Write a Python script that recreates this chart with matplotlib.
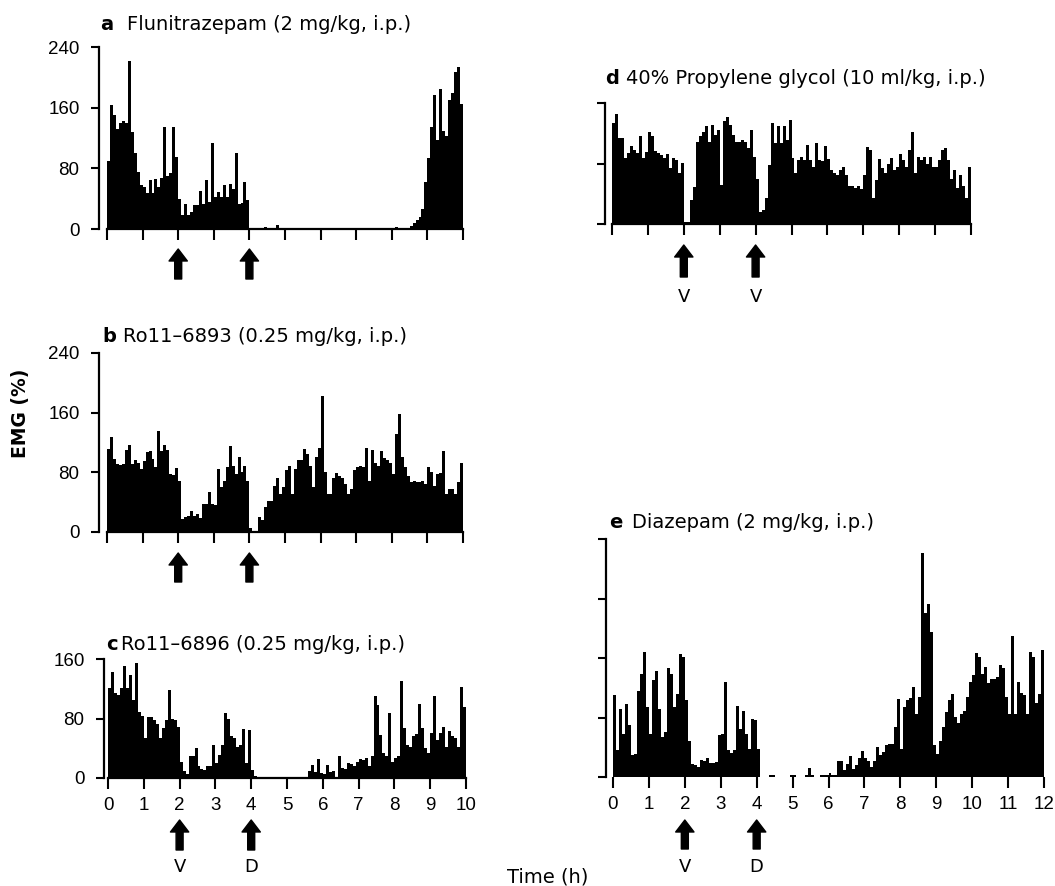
import numpy as np
import matplotlib
matplotlib.use("Agg")
import matplotlib.pyplot as plt

plt.rcParams["font.family"] = ["DejaVu Sans"]

W, H = 1055, 886
BINS_PER_HOUR = 12
TICK_FONT = "Liberation Sans"

# EMG activity (% of baseline), one value per 5-min bin, one row per hour
emg_a = [
    90, 164, 150, 132, 140, 143, 140, 222, 128, 100, 75, 58,
    55, 47, 65, 48, 66, 56, 67, 134, 70, 74, 134, 95,
    40, 18, 33, 18, 22, 31, 31, 50, 33, 65, 36, 113,
    42, 49, 42, 58, 42, 60, 53, 100, 33, 34, 62, 38,
    1, 1, 1, 1, 1, 3, 1, 1, 1, 5, 1, 1,
    1, 1, 1, 1, 1, 1, 1, 1, 1, 1, 1, 1,
    1, 1, 1, 1, 1, 1, 1, 1, 1, 1, 1, 1,
    1, 1, 1, 1, 1, 1, 1, 1, 1, 1, 1, 1,
    1, 2, 1, 1, 1, 1, 4, 8, 12, 16, 27, 62,
    93, 135, 177, 118, 185, 129, 123, 170, 180, 207, 213, 165,
]
emg_b = [
    111, 127, 98, 91, 90, 91, 110, 117, 91, 96, 92, 84,
    95, 107, 109, 98, 87, 135, 109, 117, 110, 78, 77, 86,
    69, 18, 20, 22, 28, 22, 24, 19, 38, 37, 53, 37,
    36, 84, 60, 69, 87, 115, 89, 78, 100, 80, 89, 69,
    5, 2, 2, 20, 16, 33, 42, 41, 62, 72, 51, 60,
    83, 89, 51, 84, 96, 96, 111, 104, 89, 60, 100, 113,
    182, 80, 51, 51, 73, 79, 75, 73, 64, 51, 58, 83,
    87, 89, 87, 112, 69, 110, 93, 89, 109, 99, 96, 93,
    78, 131, 158, 101, 87, 75, 67, 69, 67, 67, 69, 64,
    87, 80, 62, 78, 79, 109, 51, 58, 58, 51, 67, 93,
]
emg_c = [
    121, 143, 114, 112, 121, 150, 121, 139, 105, 154, 89, 83,
    54, 82, 82, 78, 72, 54, 67, 78, 118, 79, 78, 69,
    22, 9, 5, 29, 30, 40, 16, 12, 11, 16, 16, 45,
    20, 31, 45, 87, 80, 57, 54, 42, 45, 66, 20, 64,
    11, 3, 1, 1, 1, 1, 1, 1, 2, 1, 1, 1,
    1, 1, 1, 1, 1, 1, 1, 9, 18, 8, 25, 7,
    6, 17, 8, 9, 2, 29, 13, 12, 20, 19, 16, 21,
    25, 24, 27, 16, 29, 110, 98, 58, 34, 29, 87, 22,
    27, 29, 130, 67, 45, 42, 56, 59, 100, 67, 40, 34,
    60, 110, 51, 60, 69, 42, 63, 56, 54, 42, 123, 96,
]
emg_d = [
    134, 145, 114, 114, 87, 94, 103, 98, 94, 117, 87, 95,
    122, 116, 97, 94, 91, 87, 93, 74, 87, 85, 67, 81,
    3, 3, 32, 49, 109, 117, 122, 129, 109, 131, 118, 124,
    52, 136, 141, 131, 118, 109, 108, 111, 109, 100, 124, 89,
    60, 16, 19, 34, 78, 133, 107, 129, 107, 129, 111, 137,
    87, 67, 85, 89, 85, 105, 85, 76, 107, 85, 83, 103,
    86, 72, 67, 65, 72, 76, 65, 50, 50, 47, 50, 46,
    65, 102, 98, 34, 58, 86, 74, 67, 80, 87, 72, 75,
    93, 85, 76, 98, 121, 67, 89, 85, 89, 80, 89, 76,
    76, 85, 98, 100, 85, 59, 72, 47, 65, 50, 35, 75,
]
emg_e = [
    110, 36, 92, 58, 98, 70, 29, 31, 116, 139, 168, 94,
    58, 130, 143, 92, 54, 61, 146, 139, 94, 112, 165, 162,
    103, 49, 17, 16, 13, 23, 22, 26, 19, 19, 20, 56,
    58, 128, 36, 32, 36, 96, 65, 89, 58, 38, 78, 76,
    38, 0, 0, 0, 3, 3, 0, 0, 0, 0, 0, 3,
    3, 0, 0, 0, 3, 12, 3, 0, 0, 3, 3, 3,
    5, 3, 3, 22, 21, 9, 18, 28, 11, 16, 25, 35,
    25, 22, 13, 22, 40, 29, 34, 43, 45, 45, 67, 105,
    38, 94, 103, 106, 121, 85, 107, 301, 220, 233, 195, 43,
    31, 49, 67, 88, 103, 111, 81, 72, 85, 89, 108, 128,
    137, 167, 162, 139, 148, 127, 132, 132, 135, 150, 146, 108,
    85, 189, 85, 128, 113, 110, 85, 168, 162, 99, 112, 171,
]

arrow_times = [2, 4]
arrow_labels_c = ["V", "D"]
arrow_labels_d = ["V", "V"]
arrow_labels_e = ["V", "D"]

fig = plt.figure(figsize=(W / 100, H / 100), dpi=100)


def make_panel(values, spine_px, x0_px, xend_px, xmax, base_px, top_px, top_val,
               yticks, ylabels, xlabels, bottom_spine=True):
    ppx = (xend_px - x0_px) / xmax
    right_px = xend_px + 3
    ppy = (base_px - top_px) / top_val
    top_edge = top_px - 4
    ax = fig.add_axes([spine_px / W, 1 - base_px / H,
                       (right_px - spine_px) / W, (base_px - top_edge) / H])
    ax.set_xlim((spine_px - x0_px) / ppx, (right_px - x0_px) / ppx)
    ax.set_ylim(0, (base_px - top_edge) / ppy)

    edges = np.arange(len(values) + 1) / BINS_PER_HOUR
    ax.stairs(values, edges, fill=True, color="black", linewidth=0)

    for side in ["top", "right"]:
        ax.spines[side].set_visible(False)
    ax.spines["left"].set_bounds(0, top_val)
    ax.spines["left"].set_linewidth(1.6)
    ax.spines["bottom"].set_bounds(0, xmax)
    ax.spines["bottom"].set_linewidth(1.6)
    ax.spines["bottom"].set_visible(bottom_spine)

    ax.set_yticks(yticks)
    ax.set_yticklabels(ylabels, fontfamily=TICK_FONT)
    ax.set_xticks(range(xmax + 1))
    if xlabels:
        ax.set_xticklabels([str(i) for i in range(xmax + 1)], fontfamily=TICK_FONT)
    else:
        ax.set_xticklabels([])
    ax.tick_params(axis="y", direction="out", length=6, width=1.5, pad=8, labelsize=13.5)
    ax.tick_params(axis="x", direction="out", length=8, width=1.5, pad=6, labelsize=13.5)
    return ax


def add_arrows(ax, tip_px, tail_px, labels=None, label_px=None):
    for i, t in enumerate(arrow_times):
        ax.annotate("", xy=(t, H - tip_px), xytext=(t, H - tail_px),
                    xycoords=("data", "figure pixels"),
                    textcoords=("data", "figure pixels"),
                    annotation_clip=False,
                    arrowprops=dict(arrowstyle="simple,head_length=0.72,head_width=1.1,tail_width=0.42",
                                    mutation_scale=12, color="black",
                                    shrinkA=0, shrinkB=0))
        if labels:
            ax.annotate(labels[i], xy=(t, H - label_px),
                        xycoords=("data", "figure pixels"),
                        ha="center", va="center", fontsize=13,
                        annotation_clip=False)


def title(x_letter, x_text, y, letter, text):
    fig.text(x_letter / W, 1 - y / H, letter, fontsize=14, fontweight="bold",
             ha="left", va="center")
    fig.text(x_text / W, 1 - y / H, text, fontsize=14, ha="left", va="center")


ax_a = make_panel(emg_a, 99, 107, 463, 10, 229, 47, 240,
                  [0, 80, 160, 240], ["0", "80", "160", "240"], False)
add_arrows(ax_a, 249, 279)
title(100, 127, 24, "a", "Flunitrazepam (2 mg/kg, i.p.)")

ax_b = make_panel(emg_b, 99, 107, 463, 10, 532, 353, 240,
                  [0, 80, 160, 240], ["0", "80", "160", "240"], False)
add_arrows(ax_b, 553, 582)
title(102, 123, 336, "b", "Ro11\u20136893 (0.25 mg/kg, i.p.)")

ax_c = make_panel(emg_c, 104, 108, 466, 10, 778, 659, 160,
                  [0, 80, 160], ["0", "80", "160"], True)
add_arrows(ax_c, 820, 850, arrow_labels_c, 867)
title(106, 121, 644, "c", "Ro11\u20136896 (0.25 mg/kg, i.p.)")

ax_d = make_panel(emg_d, 605, 612, 971, 10, 224, 103, 160,
                  [0, 80, 160], ["", "", ""], False)
add_arrows(ax_d, 245, 277, arrow_labels_d, 297)
title(605, 626, 79, "d", "40% Propylene glycol (10 ml/kg, i.p.)")

ax_e = make_panel(emg_e, 606, 613, 1044, 12, 777, 539, 320,
                  [0, 80, 160, 240, 320], ["", "", "", "", ""], True,
                  bottom_spine=False)
add_arrows(ax_e, 820, 849, arrow_labels_e, 867)
title(609, 632, 523, "e", "Diazepam (2 mg/kg, i.p.)")

fig.text(21 / W, 1 - 413 / H, "EMG (%)", rotation=90, fontsize=13.5,
         fontweight="bold", ha="center", va="center")
fig.text(548 / W, 1 - 877 / H, "Time (h)", fontsize=14,
         ha="center", va="center")

fig.savefig("out.png", dpi=100)
